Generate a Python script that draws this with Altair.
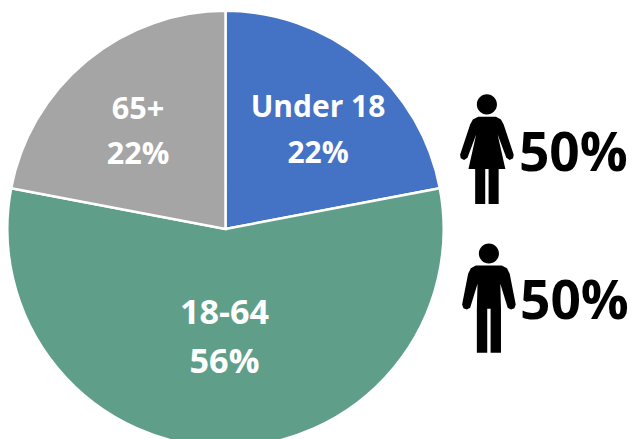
import altair as alt
import pandas as pd

groups = ["Under 18", "18-64", "65+"]
shares = [22, 56, 22]
colors = ["#4472C4", "#5F9F8A", "#A5A5A5"]
gender_labels = ["50%", "50%"]

# The page is a little larger than the window and is shrunk to fit: layout constants undo that.
S, TX, TY = 0.982, 1.8, 4.0
F = "Open Sans"


def px(v):
    return (v - TX) / S - 8


def py(v):
    return (v - TY) / S - 8


pie_df = pd.DataFrame({"group": groups, "share": shares, "order": [0, 1, 2]})
pie = alt.Chart(pie_df).mark_arc(stroke="white", strokeWidth=2.5, radius=217 / S).encode(
    theta=alt.Theta("share:Q", stack=True),
    order=alt.Order("order:Q"),
    color=alt.Color("group:N", scale=alt.Scale(domain=groups, range=colors), legend=None),
    x=alt.value(px(226)),
    y=alt.value(py(229)),
)


def label(text, cx, base, size, color):
    return alt.Chart(pd.DataFrame({"t": [text]})).mark_text(
        font=F, fontWeight="bold", fontSize=size / S, color=color, align="center", baseline="alphabetic"
    ).encode(text="t:N", x=alt.value(px(cx)), y=alt.value(py(base)))


def icon_path(points, head, cx, cy, h):
    c = lambda p: f"{(p[0]-cx)/h:.4f},{(p[1]-cy)/h:.4f}"
    body = "M" + " L".join(c(p) for p in points) + " Z"
    hx, hy, r = head
    rr = r / h
    top = c((hx, hy - r))
    bot = c((hx, hy + r))
    return f"{body} M{top} A{rr:.4f},{rr:.4f} 0 1 1 {bot} A{rr:.4f},{rr:.4f} 0 1 1 {top} Z"


female_pts = [(112, 112), (165, 112), (180, 120), (188, 135), (218, 225), (216, 236), (206, 241),
              (196, 234), (170, 165), (193, 268), (173, 268), (173, 372), (143, 372), (143, 268),
              (133, 268), (133, 372), (103, 372), (103, 268), (83, 268), (106, 165), (80, 234),
              (70, 241), (60, 236), (58, 225), (88, 135), (96, 120)]
male_pts = [(105, 106), (182, 106), (198, 114), (206, 130), (224, 222), (220, 233), (210, 237),
            (200, 232), (178, 160), (180, 235), (180, 366), (149, 366), (149, 235), (139, 235),
            (139, 366), (108, 366), (108, 235), (110, 160), (88, 232), (78, 237), (68, 233),
            (64, 222), (82, 130), (90, 114)]

female_shape = icon_path(female_pts, (138, 75, 30), 138, 210, 330)
male_shape = icon_path(male_pts, (144, 70, 30), 144, 204, 330)


def icon(shape, cx, cy, h):
    hh = h / S
    return alt.Chart(pd.DataFrame({"k": [1]})).mark_point(
        shape=shape, filled=True, fill="black", strokeWidth=0, opacity=1, size=4 * hh * hh
    ).encode(x=alt.value(px(cx)), y=alt.value(py(cy)))


layers = [
    pie,
    label("Under 18", 318, 118, 29.8, "white"),
    label("22%", 318, 163, 29.8, "white"),
    label("65+", 139, 120, 30.5, "white"),
    label("22%", 139, 164, 30.5, "white"),
    label("18-64", 225, 323, 34, "white"),
    label("56%", 225, 372, 34, "white"),
    icon(female_shape, 486, 150, 110),
    icon(male_shape, 488, 298, 110),
    label(gender_labels[0], 572, 171, 53, "black"),
    label(gender_labels[1], 573, 318, 53, "black"),
]

chart = alt.layer(*layers).properties(
    width=629, height=431, padding=0, autosize=alt.AutoSizeParams(type="none")
).configure_view(stroke=None)
chart.save("out.html", embed_options={"renderer": "svg", "actions": False})
